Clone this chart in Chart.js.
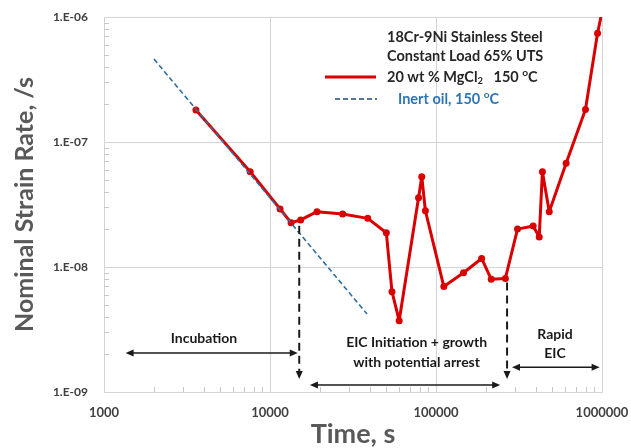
<!DOCTYPE html>
<html><head><meta charset="utf-8">
<script src="https://cdn.jsdelivr.net/npm/chart.js@4/dist/chart.umd.min.js"></script>
<style>html,body{margin:0;padding:0;background:#fff}#wrap{width:631px;height:448px}</style>
</head><body><div id="wrap"><canvas id="c" width="631" height="448"></canvas></div>
<script>
// ---- data ----
const timeMgCl2 = [3580, 7600, 11500, 13400, 15300, 19200, 27400, 38800, 50200, 54300, 60000, 78500, 82100, 86300, 111500, 146500, 188300, 215300, 261800, 309700, 384900, 418700, 437600, 481000, 608000, 795000, 940000, 1000000];
const rateMgCl2 = [1.80e-7, 5.79e-8, 2.91e-8, 2.26e-8, 2.38e-8, 2.77e-8, 2.65e-8, 2.45e-8, 1.88e-8, 6.35e-9, 3.72e-9, 3.58e-8, 5.28e-8, 2.82e-8, 6.97e-9, 9.0e-9, 1.17e-8, 7.97e-9, 8.1e-9, 2.01e-8, 2.13e-8, 1.74e-8, 5.79e-8, 2.77e-8, 6.75e-8, 1.82e-7, 7.41e-7, 1.1e-6];
const timeOil = [2000, 38400];
const rateOil = [4.61e-7, 4.21e-9];
const xDecades = [1000, 10000, 100000, 1000000];
const xTickLabels = ['1000', '10000', '100000', '1000000'];
const yDecades = [1e-9, 1e-8, 1e-7, 1e-6];
const yTickLabels = ['1.E-09', '1.E-08', '1.E-07', '1.E-06'];
const legendTitle = ['18Cr-9Ni Stainless Steel', 'Constant Load 65% UTS'];
// phase boundaries (time) and the rate levels they span
const phaseBoundaries = [{t: 15000, from: 2.3e-8, to: 1.27e-9}, {t: 268000, from: 8.1e-9, to: 1.27e-9}];
// phase arrows (time ranges at a rate level)
const phaseArrows = [{t1: 1350, t2: 14700, r: 2.05e-9}, {t1: 17400, t2: 243600, r: 1.14e-9}, {t1: 287000, t2: 968000, r: 1.58e-9}];
const phaseLabels = [
  {text: 'Incubation', t: 4000, r: 2.70e-9},
  {text: 'EIC Initiation + growth', t: 76400, r: 2.47e-9},
  {text: 'with potential arrest', t: 76400, r: 1.71e-9},
  {text: 'Rapid', t: 521000, r: 2.91e-9},
  {text: 'EIC', t: 521000, r: 2.05e-9}
];

const RED = '#d80000', BLUE = '#2e6f9e';
const FONT = 'Lato, "Open Sans", sans-serif';

function buildTicks(decades) {
  const out = [];
  for (let i = 0; i < decades.length - 1; i++) {
    for (let k = 1; k <= 9; k++) out.push({value: decades[i] * k, major: k === 1});
  }
  out.push({value: decades[decades.length - 1], major: true});
  return out;
}
function labelFor(v, decades, labels) {
  for (let i = 0; i < decades.length; i++) {
    if (Math.abs(Math.log10(v) - Math.log10(decades[i])) < 1e-6) return labels[i];
  }
  return '';
}

function head(ctx, x, y, dir) {
  const L = 8, W = 3.5;
  ctx.beginPath();
  if (dir === 'left') { ctx.moveTo(x, y); ctx.lineTo(x + L, y - W); ctx.lineTo(x + L, y + W); }
  else if (dir === 'right') { ctx.moveTo(x, y); ctx.lineTo(x - L, y - W); ctx.lineTo(x - L, y + W); }
  else { ctx.moveTo(x, y); ctx.lineTo(x - W, y - L); ctx.lineTo(x + W, y - L); }
  ctx.closePath(); ctx.fill();
}

function richText(ctx, x, y, parts, size, color) {
  ctx.fillStyle = color; ctx.textBaseline = 'middle'; ctx.textAlign = 'left';
  let cx = x;
  for (const p of parts) {
    let s = size, dy = 0;
    if (p.sub) { s = size * 0.65; dy = 4; }
    if (p.sup) { s = size * 0.7; dy = -4; }
    ctx.font = 'bold ' + s + 'px ' + FONT;
    ctx.fillText(p.t, cx, y + dy);
    cx += ctx.measureText(p.t).width;
  }
}

const decor = {
  id: 'decor',
  beforeDatasetsDraw(chart) {
    const {ctx, scales: {x, y}, chartArea: a} = chart;
    ctx.save();
    ctx.strokeStyle = '#c8c8c8'; ctx.lineWidth = 1;
    ctx.beginPath();
    for (const t of x.ticks) {
      if (t.major) continue;
      const px = Math.round(x.getPixelForValue(t.value)) + 0.5;
      ctx.moveTo(px, a.bottom); ctx.lineTo(px, a.bottom - 5);
    }
    for (const t of y.ticks) {
      if (t.major) continue;
      const py = Math.round(y.getPixelForValue(t.value)) + 0.5;
      ctx.moveTo(a.left, py); ctx.lineTo(a.left + 5, py);
    }
    ctx.stroke();
    ctx.restore();
  },
  afterDatasetsDraw(chart) {
    const {ctx, scales: {x, y}, chartArea: a} = chart;
    ctx.save();
    // phase boundaries
    ctx.strokeStyle = '#1a1a1a'; ctx.fillStyle = '#1a1a1a'; ctx.lineWidth = 2;
    for (const b of phaseBoundaries) {
      const px = x.getPixelForValue(b.t);
      const y1 = y.getPixelForValue(b.from) + 4, y2 = y.getPixelForValue(b.to);
      ctx.setLineDash([8, 5]);
      ctx.beginPath(); ctx.moveTo(px, y1); ctx.lineTo(px, y2 - 8); ctx.stroke();
      ctx.setLineDash([]);
      head(ctx, px, y2, 'down');
    }
    // arrows
    ctx.lineWidth = 1.5;
    for (const r of phaseArrows) {
      const x1 = x.getPixelForValue(r.t1), x2 = x.getPixelForValue(r.t2), py = y.getPixelForValue(r.r);
      ctx.beginPath(); ctx.moveTo(x1 + 4, py); ctx.lineTo(x2 - 4, py); ctx.stroke();
      head(ctx, x1, py, 'left'); head(ctx, x2, py, 'right');
    }
    // labels
    ctx.font = 'bold 14px ' + FONT; ctx.textAlign = 'center'; ctx.textBaseline = 'middle';
    for (const l of phaseLabels) {
      ctx.fillText(l.text, x.getPixelForValue(l.t), y.getPixelForValue(l.r));
    }
    // legend
    const lx = a.right - 215;
    ctx.font = 'bold 14.5px ' + FONT;
    ctx.textAlign = 'left';
    ctx.fillStyle = '#262626';
    ctx.fillText(legendTitle[0], lx, a.top + 20);
    ctx.fillText(legendTitle[1], lx, a.top + 39);
    const ds = chart.data.datasets;
    ctx.strokeStyle = ds[0].borderColor; ctx.lineWidth = 3;
    ctx.beginPath(); ctx.moveTo(lx - 62, a.top + 60); ctx.lineTo(lx - 11, a.top + 60); ctx.stroke();
    richText(ctx, lx, a.top + 60, [{t: '20 wt % MgCl'}, {t: '2', sub: true}, {t: '   150 '}, {t: 'o', sup: true}, {t: 'C'}], 14.5, '#262626');
    ctx.strokeStyle = '#1f4e79'; ctx.lineWidth = 1.5; ctx.setLineDash([5, 3]);
    ctx.beginPath(); ctx.moveTo(lx - 52, a.top + 82); ctx.lineTo(lx - 10, a.top + 82); ctx.stroke();
    ctx.setLineDash([]);
    richText(ctx, lx + 11, a.top + 82, [{t: 'Inert oil, 150 '}, {t: 'o', sup: true}, {t: 'C'}], 14.5, '#2e75b6');
    ctx.restore();
  }
};

new Chart(document.getElementById('c'), {
  type: 'line',
  data: {
    datasets: [
      {
        label: '20 wt % MgCl2 150 °C',
        data: timeMgCl2.map((t, i) => ({x: t, y: rateMgCl2[i]})),
        borderColor: RED, backgroundColor: RED, borderWidth: 3,
        borderJoinStyle: 'round', borderCapStyle: 'round',
        pointRadius: c => (c.raw && c.raw.y > 1e-6 ? 0 : 3.5),
        pointBackgroundColor: RED, pointBorderColor: RED, pointBorderWidth: 0,
        tension: 0, order: 2
      },
      {
        label: 'Inert oil, 150 °C',
        data: timeOil.map((t, i) => ({x: t, y: rateOil[i]})),
        borderColor: BLUE, borderWidth: 1.6, borderDash: [5, 3],
        pointRadius: 0, tension: 0, order: 1
      }
    ]
  },
  options: {
    responsive: false, animation: false, devicePixelRatio: 1,
    layout: {padding: {top: 17, right: 29, left: 0, bottom: 0}},
    plugins: {legend: {display: false}, tooltip: {enabled: false}},
    scales: {
      x: {
        type: 'logarithmic', min: xDecades[0], max: xDecades[xDecades.length - 1],
        afterBuildTicks: s => { s.ticks = buildTicks(xDecades); },
        afterFit: s => { s.height = 56; s.paddingLeft = 0; s.paddingRight = 0; },
        grid: {drawTicks: false, color: c => (c.tick && c.tick.major ? '#d4d4d4' : 'rgba(0,0,0,0)'), lineWidth: 1},
        border: {display: true, color: '#d4d4d4'},
        ticks: {autoSkip: false, maxRotation: 0, padding: 13, color: '#404040',
          font: {family: FONT, size: 13, weight: 'bold'},
          callback: v => labelFor(v, xDecades, xTickLabels)},
        title: {display: true, text: 'Time, s', color: '#595959',
          font: {family: FONT, size: 27, weight: 'bold', lineHeight: 1}, padding: {top: 0, bottom: 0}}
      },
      y: {
        type: 'logarithmic', min: yDecades[0], max: yDecades[yDecades.length - 1],
        afterBuildTicks: s => { s.ticks = buildTicks(yDecades); },
        afterFit: s => { s.width = 104; s.paddingTop = 0; s.paddingBottom = 0; },
        grid: {drawTicks: false, color: c => (c.tick && c.tick.major ? '#d4d4d4' : 'rgba(0,0,0,0)'), lineWidth: 1},
        border: {display: true, color: '#d4d4d4'},
        ticks: {autoSkip: false, padding: 16, color: '#404040',
          font: {family: FONT, size: 12, weight: 'bold'},
          callback: v => labelFor(v, yDecades, yTickLabels)},
        title: {display: true, text: 'Nominal Strain Rate, /s', color: '#595959',
          font: {family: FONT, size: 25, weight: 'bold', lineHeight: 1.2}, padding: {top: 10, bottom: 0}}
      }
    }
  },
  plugins: [decor]
});
</script>
</body></html>
